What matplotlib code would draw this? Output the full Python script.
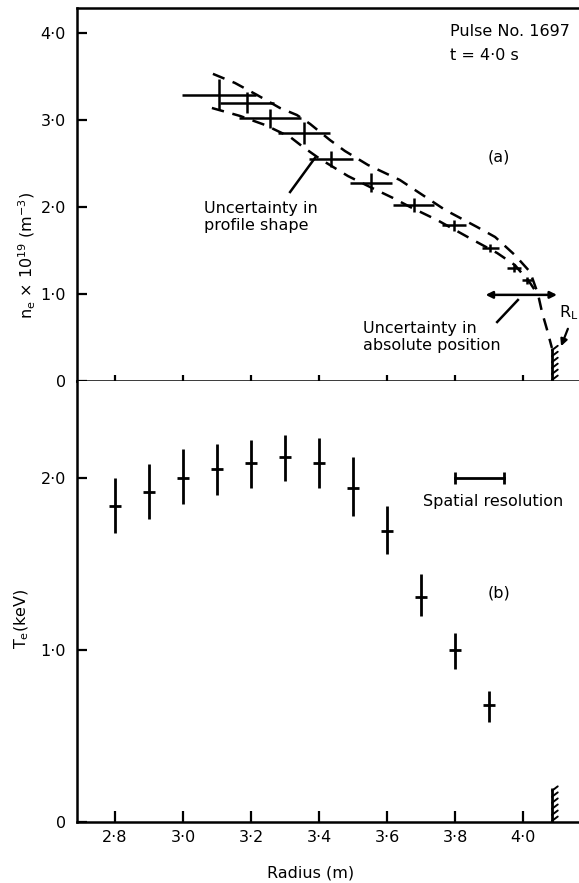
import matplotlib
matplotlib.use('Agg')
import matplotlib.pyplot as plt
import numpy as np

plt.rcParams['font.family'] = ['DejaVu Sans']
plt.rcParams['mathtext.fontset'] = 'dejavusans'

# ---------------- data ----------------
# (a) electron density profile
R_ne = [3.106, 3.188, 3.256, 3.356, 3.435, 3.553, 3.679, 3.797, 3.903, 3.974, 4.012]
ne = [3.29, 3.20, 3.02, 2.85, 2.55, 2.28, 2.02, 1.79, 1.53, 1.30, 1.16]
ne_xerr = [0.11, 0.08, 0.09, 0.077, 0.065, 0.063, 0.06, 0.035, 0.025, 0.02, 0.015]
ne_yerr = [0.18, 0.12, 0.11, 0.125, 0.09, 0.11, 0.08, 0.065, 0.05, 0.05, 0.04]

# envelope (uncertainty in profile shape)
R_upper = [3.088, 3.153, 3.218, 3.285, 3.335, 3.374, 3.432, 3.476, 3.544, 3.638,
           3.771, 3.865, 3.918, 3.976, 4.021, 4.044, 4.056, 4.070, 4.085]
ne_upper = [3.53, 3.425, 3.287, 3.138, 3.057, 2.954, 2.770, 2.644, 2.483, 2.310,
            1.966, 1.770, 1.655, 1.448, 1.253, 1.00, 0.79, 0.60, 0.38]
R_lower = [3.085, 3.168, 3.241, 3.315, 3.353, 3.403, 3.485, 3.550, 3.618, 3.668,
           3.747, 3.853, 3.924, 3.976, 4.021, 4.044]
ne_lower = [3.138, 3.046, 2.943, 2.805, 2.690, 2.552, 2.356, 2.230, 2.103, 2.000,
            1.851, 1.621, 1.471, 1.333, 1.126, 0.99]

abs_pos_R = [3.89, 4.10]
abs_pos_ne = 0.99
R_L = 4.085

# (b) electron temperature profile
R_te = [2.8, 2.9, 3.0, 3.1, 3.2, 3.3, 3.4, 3.5, 3.6, 3.7, 3.8, 3.9]
Te = [1.84, 1.92, 2.00, 2.05, 2.09, 2.12, 2.09, 1.94, 1.69, 1.31, 1.00, 0.68]
Te_lo = [1.68, 1.76, 1.85, 1.90, 1.94, 1.98, 1.94, 1.78, 1.56, 1.20, 0.89, 0.58]
Te_hi = [2.00, 2.08, 2.17, 2.20, 2.22, 2.25, 2.23, 2.12, 1.84, 1.44, 1.10, 0.76]

res_R = [3.80, 3.945]
res_Te = 2.0

x_ticks = [2.8, 3.0, 3.2, 3.4, 3.6, 3.8, 4.0]
x_ticklabels = ['2·8', '3·0', '3·2', '3·4', '3·6', '3·8', '4·0']
ne_ticks = [0, 1, 2, 3, 4]
ne_ticklabels = ['0', '1·0', '2·0', '3·0', '4·0']
te_ticks = [0, 1, 2]
te_ticklabels = ['0', '1·0', '2·0']

# ---------------- layout ----------------
W, H = 579, 883
fig = plt.figure(figsize=(W / 100, H / 100), dpi=100)


def fx(px):
    return px / W


def fy(py):
    return 1 - py / H


left_px, right_px = 77, 579
top_px, mid_px, bot_px = 8, 381, 822
ax1 = fig.add_axes([fx(left_px), fy(mid_px), fx(right_px) - fx(left_px), fy(top_px) - fy(mid_px)])
ax2 = fig.add_axes([fx(left_px), fy(bot_px), fx(right_px) - fx(left_px), fy(mid_px) - fy(bot_px)])

xlim = (2.8 - 38 / 340, 2.8 + 464 / 340)
for ax in (ax1, ax2):
    ax.set_xlim(*xlim)
    ax.spines['right'].set_visible(False)
    for s in ('left', 'bottom', 'top'):
        ax.spines[s].set_linewidth(1.8)
    ax.set_xticks(x_ticks)
ax1.set_ylim(0, 4.287)
ax2.set_ylim(0, 2.564)
ax2.spines['top'].set_visible(False)

fs = 11.5
ax1.set_yticks(ne_ticks)
ax1.set_yticklabels(ne_ticklabels, fontsize=fs)
ax1.tick_params(axis='y', direction='in', length=7, width=1.6, pad=8)
ax1.tick_params(axis='x', direction='inout', length=8, width=1.6, labelbottom=False)
ax2.set_yticks(te_ticks)
ax2.set_yticklabels(te_ticklabels, fontsize=fs)
ax2.set_xticklabels(x_ticklabels, fontsize=fs)
ax2.tick_params(axis='y', direction='in', length=7, width=1.6, pad=8)
ax2.tick_params(axis='x', direction='in', length=8, width=1.6, pad=6)

# ---------------- panel (a) ----------------
ax1.errorbar(R_ne, ne, xerr=ne_xerr, yerr=ne_yerr, fmt='none', ecolor='black',
             elinewidth=1.8, capsize=0)
ax1.plot(R_upper, ne_upper, color='black', lw=1.8, linestyle=(0, (5, 3.5)))
ax1.plot(R_lower, ne_lower, color='black', lw=1.8, linestyle=(0, (5, 3.5)))

ax1.annotate('', xy=(abs_pos_R[0], abs_pos_ne), xytext=(abs_pos_R[1], abs_pos_ne),
             arrowprops=dict(arrowstyle='<|-|>', color='black', lw=1.8,
                             mutation_scale=10, shrinkA=0, shrinkB=0))

# limiter marks
for ax, h in ((ax1, 0.38), (ax2, 0.195)):
    ax.plot([R_L, R_L], [0, h], color='black', lw=2, solid_capstyle='butt')
    for yy in np.linspace(0.03, 0.93, 6) * h:
        ax.annotate('', xy=(R_L, yy), xytext=(4.2, 3.2), textcoords='offset points',
                    arrowprops=dict(arrowstyle='-', color='black', lw=1.4,
                                    shrinkA=0, shrinkB=0))

# R_L label and arrow
ax1.text(4.106, 0.79, r'R$_\mathrm{L}$', fontsize=11.5, ha='left', va='center')
ax1.annotate('', xy=(4.112, 0.40), xytext=(4.132, 0.60),
             arrowprops=dict(arrowstyle='-|>', color='black', lw=1.6,
                             mutation_scale=10, shrinkA=0, shrinkB=0))

# leader lines
ax1.plot([3.315, 3.388], [2.172, 2.563], color='black', lw=1.8)
ax1.plot([3.924, 3.985], [0.678, 0.931], color='black', lw=1.8)

fig.text(fx(204), fy(217), 'Uncertainty in\nprofile shape', fontsize=fs,
         ha='left', va='center', linespacing=1.15)
fig.text(fx(363), fy(337), 'Uncertainty in\nabsolute position', fontsize=fs,
         ha='left', va='center', linespacing=1.15)
fig.text(fx(450), fy(32), 'Pulse No. 1697', fontsize=fs, ha='left', va='center')
fig.text(fx(450), fy(55), 't = 4·0 s', fontsize=fs, ha='left', va='center')
fig.text(fx(499), fy(157), '(a)', fontsize=fs, ha='center', va='center')

# ---------------- panel (b) ----------------
Te_a = np.array(Te)
yerr = [Te_a - np.array(Te_lo), np.array(Te_hi) - Te_a]
ax2.errorbar(R_te, Te, yerr=yerr, fmt='_', color='black', ms=8, mew=2,
             elinewidth=2, capsize=0)
ax2.plot(res_R, [res_Te, res_Te], color='black', lw=2, marker='|', ms=9, mew=2)
fig.text(fx(423), fy(502), 'Spatial resolution', fontsize=fs, ha='left', va='center')
fig.text(fx(499), fy(593), '(b)', fontsize=fs, ha='center', va='center')

# axis labels
fig.text(fx(27), fy(255), r'n$_\mathrm{e}$ × 10$^{19}$ (m$^{-3}$)', fontsize=fs,
         rotation=90, ha='center', va='center')
fig.text(fx(22), fy(619), r'T$_\mathrm{e}$(keV)', fontsize=fs,
         rotation=90, ha='center', va='center')
fig.text(fx(311), fy(873), 'Radius (m)', fontsize=fs, ha='center', va='center')

fig.savefig('out.png', dpi=100)
